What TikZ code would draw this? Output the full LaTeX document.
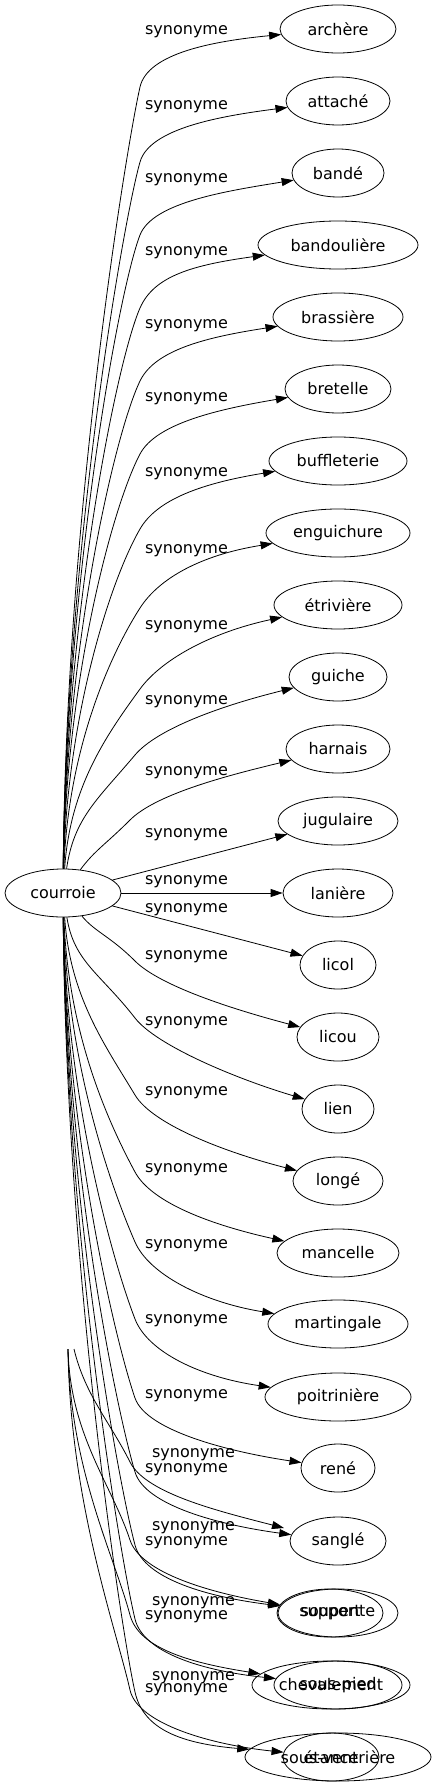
\documentclass[tikz,border=0pt]{standalone}
\usepackage{fontspec}
\newfontfamily\dvs{DejaVu Sans}
\usetikzlibrary{shapes.geometric,arrows.meta,calc}
\newcommand\lblfont{\dvs\fontsize{16}{19}\selectfont}
% #1 target, #2 Bx, #3 By, #4 Ddx, #5 Ddy, #6 C1x, #7 C1y, #8 T1dx, #9 T1dy
\newcommand\synedge[9]{%
  \path (#2,#3) coordinate (tb) ++(#4,#5) coordinate (td);
  \draw[edge] (courroie) .. controls (#6,#7) and (td) .. (tb) .. controls ($(tb)!-35pt!(td)$) and ($(#1.west)+(#8,#9)$) .. (#1);}
\begin{document}
\begin{tikzpicture}[x=1pt,y=-1pt,
  nd/.style={draw, ellipse, inner sep=0pt, minimum height=48pt, line width=0.8pt, font=\lblfont},
  lab/.style={inner sep=0pt, font=\lblfont},
  edge/.style={line width=0.8pt, -{Triangle[length=12pt,width=8pt]}}]
\fill[white] (0,0) rectangle (436,1787);
\useasboundingbox (0,0) rectangle (436,1787);
% main graph nodes
\node[nd, minimum width=116pt] (courroie) at (63,893) {courroie};
\node[nd, minimum width=116pt] (archere) at (338,29) {archère};
\node[nd, minimum width=104pt] (attache) at (338,101) {attaché};
\node[nd, minimum width=92pt] (bande) at (338,173) {bandé};
\node[nd, minimum width=160pt] (bandouliere) at (338,245) {bandoulière};
\node[nd, minimum width=130pt] (brassiere) at (338,317) {brassière};
\node[nd, minimum width=106pt] (bretelle) at (338,389) {bretelle};
\node[nd, minimum width=138pt] (buffleterie) at (338,461) {buffleterie};
\node[nd, minimum width=144pt] (enguichure) at (338,533) {enguichure};
\node[nd, minimum width=128pt] (etriviere) at (338,605) {étrivière};
\node[nd, minimum width=98pt] (guiche) at (338,677) {guiche};
\node[nd, minimum width=104pt] (harnais) at (338,749) {harnais};
\node[nd, minimum width=120pt] (jugulaire) at (338,821) {jugulaire};
\node[nd, minimum width=110pt] (laniere) at (338,893) {lanière};
\node[nd, minimum width=76pt] (licol) at (338,965) {licol};
\node[nd, minimum width=82pt] (licou) at (338,1037) {licou};
\node[nd, minimum width=72pt] (lien) at (338,1109) {lien};
\node[nd, minimum width=90pt] (longe) at (338,1181) {longé};
\node[nd, minimum width=122pt] (mancelle) at (338,1253) {mancelle};
\node[nd, minimum width=140pt] (martingale) at (338,1324) {martingale};
\node[nd, minimum width=146pt] (poitriniere) at (338,1397) {poitrinière};
\node[nd, minimum width=74pt] (rene) at (338,1468) {rené};
\node[nd, minimum width=96pt] (sangle) at (338,1541) {sanglé};
\node[nd, minimum width=120pt] (soupente) at (338,1613) {soupente};
\node[nd, minimum width=128pt] (souspied) at (338,1685) {sous-pied};
\node[nd, minimum width=186pt] (sousventriere) at (338,1757) {sous-ventrière};
% second (overlapping) graph nodes
\node[nd, minimum width=106pt] (support) at (330,1613) {support};
\node[nd, minimum width=158pt] (chevalement) at (331,1685) {chevalement};
\node[nd, minimum width=96pt] (etance) at (331,1757) {étance};
\coordinate (o1) at (74,1349);
\coordinate (o2) at (68,1349);
\coordinate (g1end) at (284,1528);
% main labels
\node[lab] (l1) at (186.5,32) {synonyme};
\node[lab] (l2) at (186.5,107) {synonyme};
\node[lab] (l3) at (186.5,180) {synonyme};
\node[lab] (l4) at (186.5,253) {synonyme};
\node[lab] (l5) at (186.5,326) {synonyme};
\node[lab] (l6) at (186.5,399) {synonyme};
\node[lab] (l7) at (186.5,474) {synonyme};
\node[lab] (l8) at (186.5,551) {synonyme};
\node[lab] (l9) at (186.5,627) {synonyme};
\node[lab] (l10) at (186.5,702) {synonyme};
\node[lab] (l11) at (186.5,773) {synonyme};
\node[lab] (l12) at (186.5,835) {synonyme};
\node[lab] (l13) at (186.5,882) {synonyme};
\node[lab] (l14) at (186.5,910) {synonyme};
\node[lab] (l15) at (186.5,957) {synonyme};
\node[lab] (l16) at (186.5,1023) {synonyme};
\node[lab] (l17) at (186.5,1093) {synonyme};
\node[lab] (l18) at (186.5,1170) {synonyme};
\node[lab] (l19) at (186.5,1246) {synonyme};
\node[lab] (l20) at (186.5,1321) {synonyme};
\node[lab] (l21) at (186.5,1396) {synonyme};
\node[lab] (l22) at (186.5,1470) {synonyme};
\node[lab] (l23) at (186.5,1543) {synonyme};
\node[lab] (l24) at (186.5,1617) {synonyme};
\node[lab] (l25) at (186.5,1690) {synonyme};
% second graph labels
\node[lab] (m1) at (193.5,1455) {synonyme};
\node[lab] (m2) at (193.5,1528) {synonyme};
\node[lab] (m3) at (193.5,1603) {synonyme};
\node[lab] (m4) at (193.5,1678) {synonyme};
% main edges, upper
\synedge{archere}{140}{87}{-14}{62}{66}{517}{-65}{12}
\synedge{attache}{140}{162}{-17}{60}{66}{551}{-65}{15}
\synedge{bande}{140}{235}{-22}{57}{66}{584}{-65}{18}
\synedge{bandouliere}{140}{308}{-24}{55}{66}{617}{-65}{20}
\synedge{brassiere}{140}{381}{-26}{54}{66}{649}{-65}{20}
\synedge{bretelle}{140}{454}{-28}{53}{66}{682}{-65}{20}
\synedge{buffleterie}{140}{529}{-30}{52}{67}{716}{-65}{22}
\synedge{enguichure}{140}{608}{-32}{50}{68}{752}{-65}{22}
\synedge{etriviere}{140}{689}{-35}{48}{70}{788}{-65}{28}
\synedge{guiche}{135}{755}{-38}{45}{74}{818}{-65}{28}
\synedge{harnais}{130}{820}{-25}{25}{95}{850}{-65}{28}
\draw[edge] (courroie) -- (jugulaire);
\draw[edge] (courroie) -- (laniere);
\draw[edge] (courroie) -- (licol);
% main edges, lower
\synedge{licou}{135}{961}{-25}{-25}{95}{932}{-65}{-28}
\synedge{lien}{135}{1018}{-35}{-45}{74}{962}{-65}{-30}
\synedge{longe}{135}{1095}{-30}{-50}{70}{997}{-65}{-28}
\synedge{mancelle}{135}{1172}{-28}{-52}{68}{1032}{-65}{-28}
\synedge{martingale}{135}{1242}{-24}{-55}{67}{1063}{-65}{-22}
\synedge{poitriniere}{135}{1319}{-22}{-57}{66}{1098}{-65}{-20}
\synedge{rene}{135}{1398}{-20}{-58}{66}{1133}{-70}{-16}
\synedge{sangle}{135}{1472}{-18}{-60}{66}{1167}{-70}{-16}
\synedge{soupente}{135}{1545}{-16}{-60}{66}{1200}{-70}{-16}
\synedge{souspied}{135}{1619}{-15}{-62}{66}{1233}{-70}{-14}
\synedge{sousventriere}{135}{1692}{-14}{-62}{66}{1266}{-70}{-14}
% second graph edges
\path (130,1462) coordinate (gb1) ++(-20,-40) coordinate (gd1);
\draw[edge] (o1) .. controls (85,1395) and (gd1) .. (gb1) .. controls ($(gb1)!-35pt!(gd1)$) and (218,1511) .. (g1end);
\path (130,1540) coordinate (gb2) ++(-18,-55) coordinate (gd2);
\draw[edge] (o2) .. controls (70,1435) and (gd2) .. (gb2) .. controls ($(gb2)!-35pt!(gd2)$) and ($(support.west)+(-65,-20)$) .. (support);
\path (130,1615) coordinate (gb3) ++(-16,-60) coordinate (gd3);
\draw[edge] (o2) .. controls (70,1469) and (gd3) .. (gb3) .. controls ($(gb3)!-35pt!(gd3)$) and ($(chevalement.west)+(-60,-22)$) .. (chevalement);
\path (130,1690) coordinate (gb4) ++(-14,-62) coordinate (gd4);
\draw[edge] (o2) .. controls (70,1502) and (gd4) .. (gb4) .. controls ($(gb4)!-35pt!(gd4)$) and ($(etance.west)+(-70,-12)$) .. (etance);
\end{tikzpicture}
\end{document}
